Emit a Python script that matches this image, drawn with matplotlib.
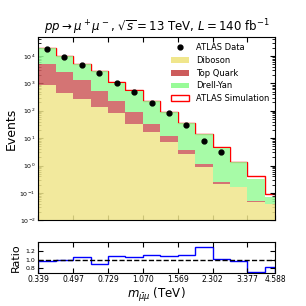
import matplotlib.pyplot as plt
from matplotlib.ticker import NullLocator, FixedLocator
import numpy as np

# bin edges in TeV (last bin clipped at the axis end)
edges = [0.339, 0.4105, 0.497, 0.602, 0.729, 0.883, 1.070, 1.296,
         1.569, 1.900, 2.302, 2.788, 3.377, 4.090, 4.588]
tick_vals = [0.339, 0.497, 0.729, 1.070, 1.569, 2.302, 3.377, 4.588]

# cumulative tops of the stacked backgrounds
diboson = [870, 455, 270, 140, 85, 32, 17, 7.5, 2.6, 0.9, 0.22, 0.16, 0.048, 0.039]
top_cum = [5200, 2700, 1300, 540, 220, 90, 32, 11.8, 3.6, 1.12, 0.26, 0.165, 0.052, 0.041]
total = [19000, 10000, 5000, 2900, 1050, 540, 220, 88, 35, 13.8, 4.4, 1.36, 0.32, 0.072]
simulation = [19000, 10000, 5000, 2900, 1100, 560, 225, 92, 37, 14.5, 4.6, 1.38, 0.42, 0.089]
data_vals = [18000, 9400, 4700, 2300, 1000, 490, 190, 85, 29.5, 7.9, 3.0]
ratio = [0.97, 1.0, 1.07, 0.89, 1.08, 1.05, 1.095, 1.08, 1.11, 1.30, 1.01, 0.97, 0.72, 0.83]

edges = np.array(edges)
centers = np.sqrt(edges[:-1] * edges[1:])
top_quark = np.array(top_cum) - np.array(diboson)
drell_yan = np.array(total) - np.array(top_cum)

fig = plt.figure(figsize=(3.06, 3.06), dpi=100)
ax = fig.add_axes([38.3 / 306, 1 - 220.3 / 306, 237 / 306, 183 / 306])
rax = fig.add_axes([38.3 / 306, 1 - 272.5 / 306, 237 / 306, 30.2 / 306])

# simulation outline under the stack
ax.hist(centers, bins=edges, weights=simulation, histtype="step", color="red",
        lw=1.0, zorder=1)
ax.hist([centers] * 3, bins=edges, weights=[diboson, top_quark, drell_yan],
        stacked=True, color=["khaki", "indianred", "palegreen"], alpha=0.85,
        zorder=2)
ax.plot(centers[:len(data_vals)], data_vals, "o", color="black", ms=3.5, zorder=3)

ax.set_xscale("log")
ax.set_yscale("log")
ax.set_xlim(edges[0], edges[-1])
ax.set_ylim(1e-2, 4.8e4)
ax.xaxis.set_major_locator(FixedLocator(tick_vals))
ax.xaxis.set_minor_locator(NullLocator())
ax.set_xticklabels([])
ax.tick_params(which="both", direction="in", top=True, right=True, labelsize=4.5,
               pad=2)
ax.set_ylabel("Events", fontsize=9, labelpad=1)
ax.set_title(r"$pp \rightarrow \mu^+\mu^-$, $\sqrt{s} = 13$ TeV, $L = 140$ fb$^{-1}$",
             fontsize=8.5, pad=4)

handles = [
    plt.Line2D([], [], marker="o", ls="none", color="black", ms=3.5),
    plt.Rectangle((0, 0), 1, 1, fc="khaki"),
    plt.Rectangle((0, 0), 1, 1, fc="indianred"),
    plt.Rectangle((0, 0), 1, 1, fc="palegreen"),
    plt.Rectangle((0, 0), 1, 1, fc="white", ec="red"),
]
labels = ["ATLAS Data", "Diboson", "Top Quark", "Drell-Yan", "ATLAS Simulation"]
ax.legend(handles, labels, loc="upper right", frameon=False, fontsize=6,
          handlelength=2.2, labelspacing=0.45, borderaxespad=0.3)

rax.stairs(ratio, edges, color="blue", lw=1.0)
rax.axhline(1.0, color="black", ls="--", lw=1.0)
rax.set_xscale("log")
rax.set_xlim(edges[0], edges[-1])
rax.set_ylim(0.7, 1.4)
rax.xaxis.set_major_locator(FixedLocator(tick_vals))
rax.xaxis.set_minor_locator(NullLocator())
rax.set_xticklabels(["%.3f" % v for v in tick_vals])
rax.set_yticks([0.8, 1.0, 1.2])
rax.tick_params(which="both", direction="in", top=True, right=True, labelsize=5.5,
                pad=2)
rax.tick_params(axis="y", labelsize=4.5)
rax.set_ylabel("Ratio", fontsize=8, labelpad=3.5)
rax.set_xlabel(r"$m_{\bar{\mu}\mu}$ (TeV)", fontsize=8.5, labelpad=1)

fig.savefig("out.png", dpi=100)
